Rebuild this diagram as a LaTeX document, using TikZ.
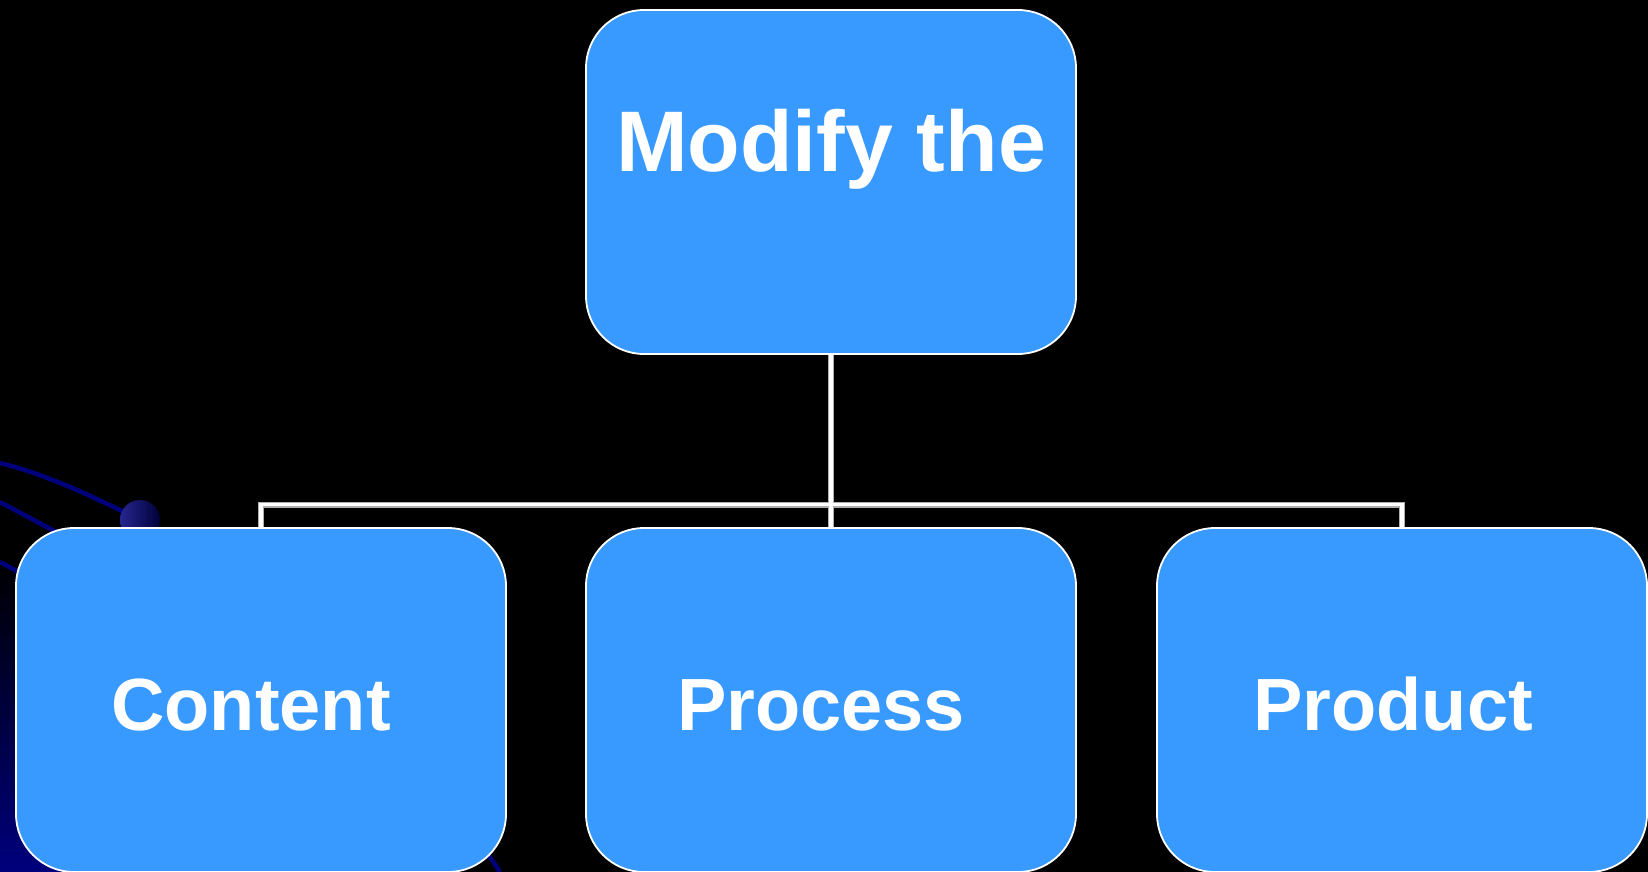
\documentclass[tikz,border=0pt]{standalone}
\usepackage{fontspec}
\setmainfont{Liberation Sans}
\usepackage{tikz}
\usetikzlibrary{backgrounds}
\definecolor{boxblue}{RGB}{56,153,255}
\definecolor{orbitnavy}{RGB}{0,0,125}
\definecolor{wireedge}{RGB}{175,175,175}

\begin{document}
\begin{tikzpicture}[x=1pt,y=1pt,yscale=-1,xscale=1,
  box/.style={draw=white,line width=1.8pt,fill=boxblue,rounded corners=58pt,
    minimum width=490pt,minimum height=344pt,inner sep=0pt},
  headtext/.style={anchor=base,text=white,font=\fontsize{86pt}{96pt}\selectfont\bfseries},
  boxtext/.style={anchor=base,text=white,font=\fontsize{74pt}{84pt}\selectfont\bfseries},
  orbit/.style={draw=orbitnavy,line width=4.5pt},
  wire/.style={draw=wireedge,line width=6pt},
  wirecore/.style={draw=white,line width=3.6pt}]
\useasboundingbox (0,0) rectangle (1648,872);

%Shape: Boxes
\node [box] (top) at (831,182) {};
\node [box] (content) at (261,700) {};
\node [box] (process) at (831,700) {};
\node [box] (product) at (1402,700) {};
\coordinate (bus) at (831,504.5);

% Text Node
\node [headtext] (topText) at (831,171) {Modify the};
% Text Node
\node [boxtext] (contentText) at (251,730) {Content};
% Text Node
\node [boxtext] (processText) at (821,730) {Process};
% Text Node
\node [boxtext] (productText) at (1393,730) {Product};

\begin{scope}[on background layer]
%Background
\fill [black] (0,0) rectangle (1648,872);
\shade [top color=black,bottom color=orbitnavy] (0,560) rectangle (90,872);
%Orbit lines
\draw [orbit] (0,463) .. controls (45,474) and (90,495) .. (140,520);
\draw [orbit] (0,502) -- (60,534);
\draw [orbit] (0,562) -- (24,575);
\draw [orbit] (484,848) -- (500,872);
\shade [left color=orbitnavy!85!white,right color=orbitnavy!45!black] (140,520) circle (20);
%Connectors
\draw [wire] (top.south) -- (process.north);
\draw [wire] (content.north) |- (bus) -| (product.north);
\draw [wirecore] (top.south) -- (process.north);
\draw [wirecore] (content.north) |- (bus) -| (product.north);
\end{scope}
\end{tikzpicture}
\end{document}
